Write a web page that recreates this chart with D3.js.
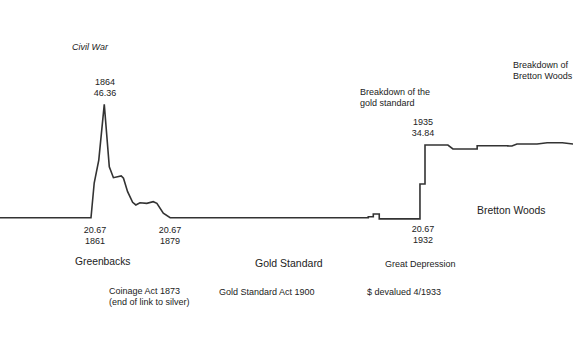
<!DOCTYPE html>
<html lang="en">
  <head>
    <meta charset="UTF-8" />
    <title>Gold price</title>
    <style>
      body { margin: 0; background: #fff; }
      text { font-family: "Liberation Sans", Arial, sans-serif; fill: #222; }
    </style>
  </head>
  <body>
    <script src="https://d3js.org/d3.v7.min.js"></script>
    <script>
      // price of gold in dollars per ounce
      const years = [
        1840, 1861, 1861.7, 1862.7, 1863.9, 1865, 1865.9, 1867.6, 1868.1,
        1869, 1870.1, 1870.8, 1871.7, 1873.2, 1874.6, 1875.4, 1876.8, 1878.3,
        1921.6, 1921.6, 1922.7, 1922.7, 1924, 1924, 1932.9, 1932.9, 1934,
        1934, 1939, 1940.1, 1945.4, 1945.4, 1952.1, 1952.1, 1953, 1954.1,
        1958.5, 1960.7, 1964, 1966.4, 1968,
      ];
      const prices = [
        20.67, 20.67, 26.46, 31.17, 46.36, 29.72, 27.49, 27.82, 27.37,
        24.88, 23.07, 22.63, 23.0, 22.9, 23.17, 22.9, 21.33, 20.67,
        20.67, 20.8, 20.8, 21.22, 21.22, 20.5, 20.5, 26.28, 26.28,
        34.69, 34.69, 33.72, 33.72, 34.52, 34.52, 34.44, 34.44, 34.94,
        34.94, 35.27, 35.27, 34.94, 34.94,
      ];

      const topCallouts = [["1864", "46.36"], ["1935", "34.84"]];
      const bottomCallouts = [["20.67", "1861"], ["20.67", "1879"], ["20.67", "1932"]];
      const eras = ["Greenbacks", "Gold Standard", "Great Depression", "Bretton Woods"];
      const events = [
        ["Coinage Act 1873", "(end of link to silver)"],
        ["Gold Standard Act 1900"],
        ["$ devalued 4/1933"],
        ["Breakdown of the", "gold standard"],
        ["Breakdown of", "Bretton Woods"],
      ];

      const width = 573, height = 341;

      const x = d3.scaleLinear().domain([1861, 1934]).range([91, 425]);
      const y = d3.scaleLog().domain([20.67, 46.36]).range([217.7, 104.3]);

      const svg = d3.select("body")
        .append("svg")
        .attr("width", width)
        .attr("height", height);

      svg.append("rect")
        .attr("width", width)
        .attr("height", height)
        .attr("fill", "#fff");

      const line = d3.line()
        .x((d, i) => x(years[i]))
        .y((d) => y(d));

      svg.append("path")
        .datum(prices)
        .attr("d", line)
        .attr("fill", "none")
        .attr("stroke", "#333")
        .attr("stroke-width", 1.6);

      // helper for multi-line labels
      function label(lines, px, py, opts = {}) {
        const t = svg.append("text")
          .attr("x", px)
          .attr("y", py)
          .attr("font-size", opts.size || 9)
          .attr("text-anchor", opts.anchor || "start");
        if (opts.italic) t.attr("font-style", "italic");
        lines.forEach((s, i) => {
          t.append("tspan")
            .attr("x", px)
            .attr("dy", i ? 10.5 : 0)
            .text(s);
        });
      }

      label(["Civil War"], 90, 50, { anchor: "middle", italic: true });

      // point callouts
      const topPos = [[105, 85], [423, 125]];
      topCallouts.forEach((c, i) => label(c, topPos[i][0], topPos[i][1], { anchor: "middle" }));

      const bottomPos = [[95, 233], [170, 233], [423, 232]];
      bottomCallouts.forEach((c, i) => label(c, bottomPos[i][0], bottomPos[i][1], { anchor: "middle" }));

      // eras
      const eraPos = [[75, 265, 10.3], [255, 267, 10.5], [385, 267, 9], [477, 214, 10.4]];
      eras.forEach((e, i) => label([e], eraPos[i][0], eraPos[i][1], { size: eraPos[i][2] }));

      // events
      const eventPos = [[109, 294], [219, 295], [367, 295], [360, 95], [513, 68]];
      events.forEach((e, i) => label(e, eventPos[i][0], eventPos[i][1]));
    </script>
  </body>
</html>
